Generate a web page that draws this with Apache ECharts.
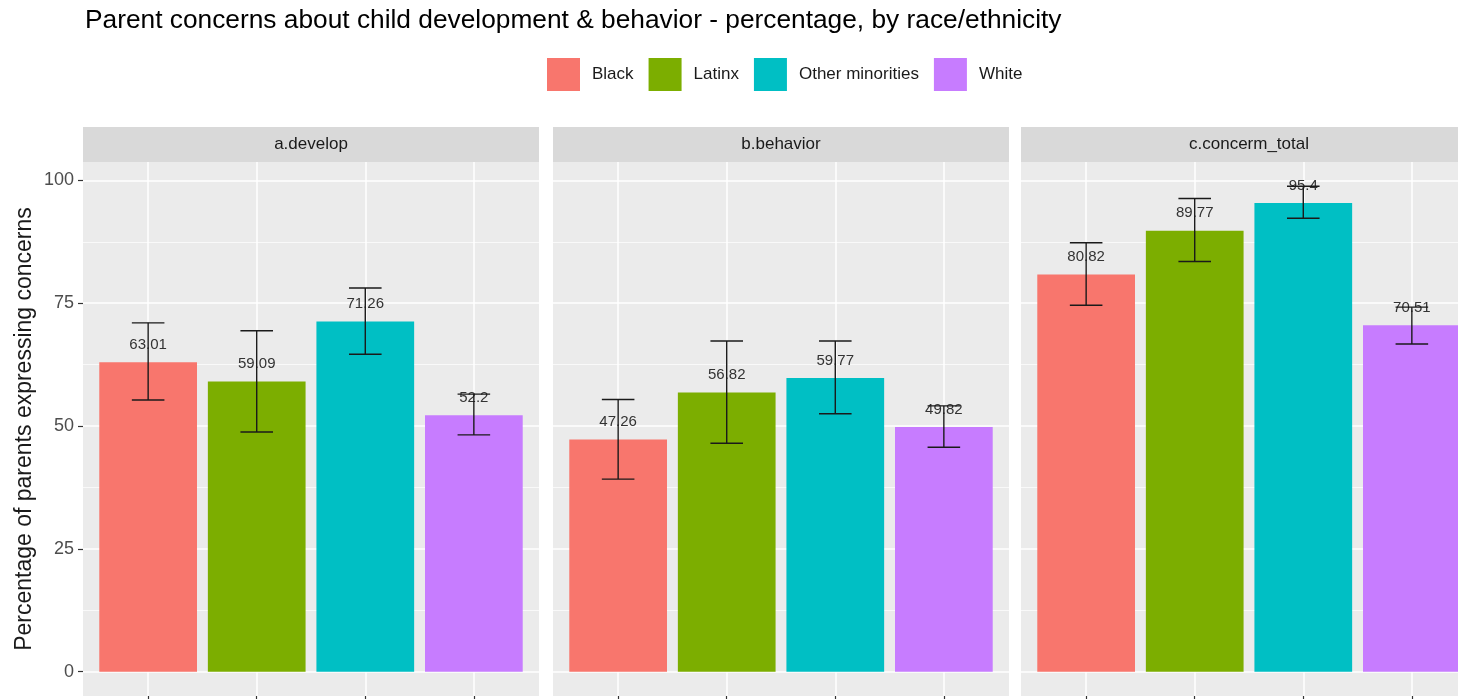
<!DOCTYPE html>
<html>
<head>
<meta charset="utf-8">
<script src="https://cdn.jsdelivr.net/npm/echarts@6/dist/echarts.min.js"></script>
<style>
  html, body { margin: 0; padding: 0; background: #fff; }
  #chart { width: 1458px; height: 699px; }
</style>
</head>
<body>
<div id="chart"></div>
<script>
// categories
var groups = ['Black', 'Latinx', 'Other minorities', 'White'];
var facets = ['a.develop', 'b.behavior', 'c.concerm_total'];
var colors = ['#F8766D', '#7CAE00', '#00BFC4', '#C77CFF'];

// percentage per facet (order = groups)
var develop = [63.01, 59.09, 71.26, 52.2];
var behavior = [47.26, 56.82, 59.77, 49.82];
var concernTotal = [80.82, 89.77, 95.4, 70.51];

// error bar limits
var developLow = [55.3, 48.8, 64.6, 48.2];
var developHigh = [71.0, 69.4, 78.1, 56.5];
var behaviorLow = [39.2, 46.5, 52.5, 45.7];
var behaviorHigh = [55.4, 67.3, 67.3, 54.1];
var concernLow = [74.6, 83.5, 92.3, 66.7];
var concernHigh = [87.3, 96.3, 98.8, 74.2];

// tick values
var yTicks = [0, 25, 50, 75, 100];
var yMinor = [12.5, 37.5, 62.5, 87.5];

var values = [develop, behavior, concernTotal];
var lows = [developLow, behaviorLow, concernLow];
var highs = [developHigh, behaviorHigh, concernHigh];

var FONT = '"Liberation Sans", Arial, sans-serif';

// panel layout
var panelLeft = [83, 553, 1021];
var panelWidth = 456;
var panelTop = 162;
var panelHeight = 534;
var stripTop = 127;

var chart = echarts.init(document.getElementById('chart'));

var grids = [], xAxes = [], yAxes = [], series = [], graphics = [];

for (var f = 0; f < facets.length; f++) {
  grids.push({
    left: panelLeft[f], top: panelTop, width: panelWidth, height: panelHeight,
    outerBoundsMode: 'none', containLabel: false,
    show: true, backgroundColor: '#EBEBEB', borderWidth: 0
  });
  xAxes.push({
    type: 'value', gridIndex: f, min: 0.4, max: 4.6,
    axisLine: { show: false, onZero: false },
    axisTick: { show: true, customValues: [1, 2, 3, 4], length: 5, lineStyle: { color: '#333', width: 1.2 } },
    axisLabel: { show: false },
    splitLine: { show: true, lineStyle: { color: '#fff', width: 1.5 } }
  });
}
// major y axes
for (var f = 0; f < facets.length; f++) {
  yAxes.push({
    type: 'value', gridIndex: f, min: -4.94, max: 103.74,
    name: f === 0 ? 'Percentage of parents expressing concerns' : '',
    nameLocation: 'middle', nameRotate: 90, nameGap: 47,
    nameTextStyle: { fontFamily: FONT, fontSize: 23, color: '#1a1a1a' },
    axisLine: { show: false, onZero: false },
    axisTick: { show: f === 0, customValues: yTicks, length: 5, lineStyle: { color: '#333', width: 1.2 } },
    axisLabel: { show: f === 0, customValues: yTicks, margin: 9, fontFamily: FONT, fontSize: 18, color: '#4D4D4D' },
    splitLine: { show: true, lineStyle: { color: '#fff', width: 1.5 } }
  });
}
// minor y grid lines
for (var f = 0; f < facets.length; f++) {
  yAxes.push({
    type: 'value', gridIndex: f, min: -4.94, max: 103.74,
    axisLine: { show: false, onZero: false },
    axisTick: { show: false, customValues: yMinor },
    axisLabel: { show: false, customValues: yMinor },
    splitLine: { show: true, lineStyle: { color: '#fff', width: 0.7 } }
  });
}

function errorBar(params, api) {
  var x = api.value(0);
  var top = api.coord([x, api.value(2)]);
  var bot = api.coord([x, api.value(1)]);
  var half = api.size([0.3, 0])[0] / 2;
  var st = { stroke: '#1a1a1a', lineWidth: 1.4 };
  return {
    type: 'group',
    children: [
      { type: 'line', shape: { x1: top[0], y1: top[1], x2: bot[0], y2: bot[1] }, style: st },
      { type: 'line', shape: { x1: top[0] - half, y1: top[1], x2: top[0] + half, y2: top[1] }, style: st },
      { type: 'line', shape: { x1: bot[0] - half, y1: bot[1], x2: bot[0] + half, y2: bot[1] }, style: st }
    ]
  };
}

for (var f = 0; f < facets.length; f++) {
  for (var g = 0; g < groups.length; g++) {
    series.push({
      name: groups[g], type: 'bar', xAxisIndex: f, yAxisIndex: f,
      data: [[g + 1, values[f][g]]],
      barWidth: '90%', barGap: '-100%',
      itemStyle: { color: colors[g] },
      label: {
        show: true, position: 'top', distance: 10,
        fontFamily: FONT, fontSize: 15, color: '#333',
        formatter: function (p) { return p.value[1]; }
      },
      emphasis: { disabled: true },
      z: 2
    });
  }
  series.push({
    type: 'custom', xAxisIndex: f, yAxisIndex: f,
    renderItem: errorBar,
    encode: { x: 0, y: [1, 2] },
    data: groups.map(function (_, g) { return [g + 1, lows[f][g], highs[f][g]]; }),
    z: 5, silent: true
  });
  graphics.push({
    type: 'rect', left: panelLeft[f], top: stripTop,
    shape: { width: panelWidth, height: panelTop - stripTop },
    style: { fill: '#D9D9D9' }
  });
  graphics.push({
    type: 'text', x: panelLeft[f] + panelWidth / 2, y: (stripTop + panelTop) / 2,
    style: { text: facets[f], fontFamily: FONT, fontSize: 17, fill: '#1a1a1a', align: 'center', verticalAlign: 'middle' }
  });
}

chart.setOption({
  animation: false,
  backgroundColor: '#fff',
  title: {
    text: 'Parent concerns about child development & behavior - percentage, by race/ethnicity',
    left: 80, top: 3,
    textStyle: { fontFamily: FONT, fontSize: 26.3, fontWeight: 'normal', color: '#000' }
  },
  legend: {
    data: groups, left: 542, top: 53, orient: 'horizontal',
    icon: 'rect', itemWidth: 33, itemHeight: 33, itemGap: 15,
    textStyle: { fontFamily: FONT, fontSize: 17, color: '#1a1a1a', padding: [0, 0, 0, 7] }
  },
  grid: grids,
  xAxis: xAxes,
  yAxis: yAxes,
  series: series,
  graphic: graphics
});
</script>
</body>
</html>
